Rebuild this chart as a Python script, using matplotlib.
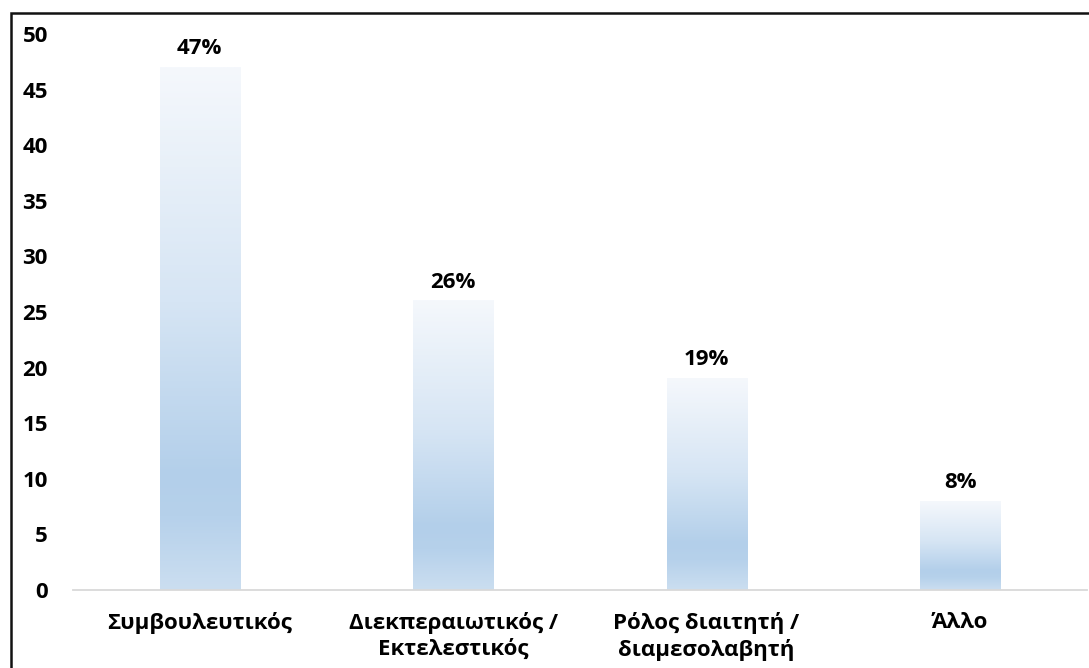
import numpy as np
import matplotlib.pyplot as plt
from matplotlib.colors import LinearSegmentedColormap
from matplotlib.patches import Rectangle

categories = ["Συμβουλευτικός", "Διεκπεραιωτικός /\nΕκτελεστικός",
              "Ρόλος διαιτητή /\nδιαμεσολαβητή", "Άλλο"]
values = [47, 26, 19, 8]
labels = ["47%", "26%", "19%", "8%"]
yticks = [0, 5, 10, 15, 20, 25, 30, 35, 40, 45, 50]

plt.rcParams['font.family'] = ['Open Sans', 'DejaVu Sans']
plt.rcParams['font.weight'] = 'bold'

fig = plt.figure(figsize=(10.89, 6.68), dpi=100)
ax = fig.add_axes([0.067, 0.1168, 0.931, 0.8322])

# top -> bottom gradient like the office "light gradient" fill
grad = LinearSegmentedColormap.from_list(
    "g", [(0.0, "#f5f8fc"), (0.45, "#d6e5f4"), (0.78, "#b3cfea"),
          (0.86, "#b6d1eb"), (1.0, "#cbdef0")])

x = np.arange(len(categories))
bars = ax.bar(x, values, width=0.316, color="none", edgecolor="none")
g = np.linspace(0, 1, 256).reshape(-1, 1)
for b in bars:
    x0, y0, w, h = b.get_x(), b.get_y(), b.get_width(), b.get_height()
    ax.imshow(g, cmap=grad, aspect="auto", extent=[x0, x0 + w, y0, y0 + h],
              origin="upper", zorder=2)

for xi, v, lab in zip(x, values, labels):
    ax.annotate(lab, (xi, v), xytext=(0, 6), textcoords="offset points",
                ha="center", va="bottom", fontsize=16, fontweight="bold")

ax.set_xlim(-0.5, 3.5)
ax.set_ylim(0, 50)
ax.set_yticks(yticks)
ax.set_xticks(x)
ax.set_xticklabels(categories, fontsize=16, fontweight="bold", linespacing=1.3)
ax.tick_params(axis="y", length=0, pad=18, labelsize=16)
ax.tick_params(axis="x", length=0, pad=16)
for s in ["top", "right", "left"]:
    ax.spines[s].set_visible(False)
ax.spines["bottom"].set_color("#d9d9d9")
ax.spines["bottom"].set_linewidth(1.3)

# outer frame (clipped at right and bottom)
fig.patches.append(Rectangle((11 / 1089, -0.1), 1.2, 1.1 - 13 / 668,
                             transform=fig.transFigure, fill=False,
                             edgecolor="#111111", linewidth=1.8))

fig.savefig("out.png", dpi=100)
